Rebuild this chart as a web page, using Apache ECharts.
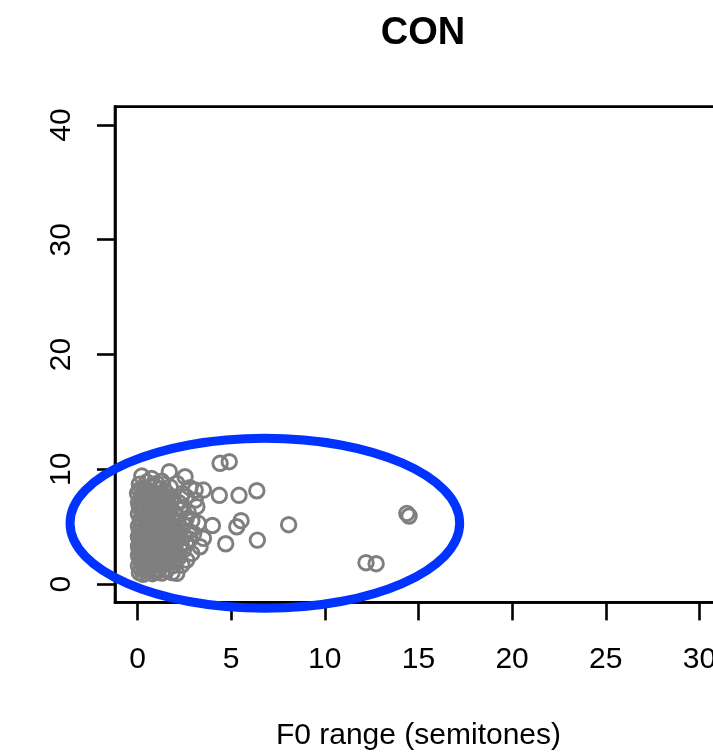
<!DOCTYPE html>
<html>
<head>
<meta charset="utf-8">
<title>CON</title>
<script src="https://cdn.jsdelivr.net/npm/echarts@6/dist/echarts.min.js"></script>
<style>
  html, body { margin: 0; padding: 0; background: #fff; }
  #chart { width: 713px; height: 753px; }
</style>
</head>
<body>
<div id="chart"></div>
<script>
// Axis ticks
var xTicks = [0, 5, 10, 15, 20, 25, 30];
var yTicks = [0, 10, 20, 30, 40];

// Observations: [F0 range (semitones), y]
var conPoints = [
  // bottom rows
  [0.1,1.0],[0.3,0.85],[0.55,1.1],[0.8,0.9],[1.0,1.05],[1.3,0.95],[1.55,1.2],[1.85,1.0],[2.1,0.93],
  [0.2,1.3],[0.65,1.35],[1.15,1.3],[0.4,1.15],[0.9,1.25],
  [0.05,1.6],[0.25,1.75],[0.45,1.55],[0.7,1.8],[0.9,1.6],[1.1,1.9],[1.35,1.7],[1.6,1.85],[1.9,1.6],[2.37,1.66],
  [0.15,2.1],[0.4,2.2],[0.6,2.0],[0.85,2.15],[1.05,2.05],[1.25,2.25],[1.5,2.1],[1.75,2.2],[2.0,2.0],[2.63,2.09],[2.2,2.3],
  [0.05,2.5],[0.3,2.6],[0.5,2.45],[0.75,2.7],[0.95,2.55],[1.2,2.8],[1.4,2.5],[1.65,2.7],[1.9,2.9],[2.15,2.6],[2.9,2.67],
  [0.1,2.95],[0.35,3.0],[0.6,2.85],[0.85,3.05],[1.1,2.95],[1.3,3.1],[1.55,3.0],[1.8,3.15],[2.45,2.95],
  [0.05,3.3],[0.25,3.45],[0.5,3.25],[0.7,3.5],[0.9,3.35],[1.15,3.6],[1.35,3.4],[1.6,3.55],[1.85,3.45],[2.1,3.7],[2.35,3.3],[3.34,3.25],
  [0.15,3.8],[0.4,3.9],[0.65,3.75],[0.9,3.85],[1.05,3.7],[1.25,3.95],[1.5,3.8],[1.75,3.9],[2.0,3.85],[2.6,3.6],[3.52,3.98],[2.8,3.9],
  // middle rows
  [0.05,4.1],[0.3,4.2],[0.55,4.05],[0.75,4.3],[1.0,4.15],[1.2,4.4],[1.45,4.2],[1.7,4.35],[1.95,4.25],[2.2,4.45],[2.5,4.2],
  [0.1,4.6],[0.35,4.7],[0.6,4.55],[0.85,4.75],[1.1,4.6],[1.3,4.85],[1.55,4.65],[1.8,4.8],[2.05,4.7],[2.3,4.9],[2.75,4.6],[3.0,4.4],
  [0.05,5.05],[0.25,5.2],[0.45,5.0],[0.7,5.25],[0.95,5.1],[1.15,5.35],[1.4,5.15],[1.65,5.3],[1.9,5.1],[2.15,5.4],[2.45,5.2],[3.25,5.29],
  [0.15,5.6],[0.4,5.7],[0.65,5.55],[0.9,5.8],[1.1,5.65],[1.35,5.85],[1.6,5.6],[1.85,5.75],[2.1,5.9],[2.6,5.7],[2.9,5.5],
  [0.05,6.1],[0.3,6.2],[0.55,6.0],[0.8,6.3],[1.0,6.15],[1.25,6.35],[1.5,6.1],[1.75,6.4],[2.0,6.2],[2.3,6.5],
  [0.1,6.7],[0.4,6.8],[0.65,6.6],[0.9,6.85],[1.15,6.7],[1.4,6.9],[1.7,6.75],[2.27,6.6],[3.17,6.74],[2.7,6.3],
  // upper rows
  [0.05,7.1],[0.3,7.25],[0.6,7.05],[0.85,7.3],[1.1,7.15],[1.35,7.4],[1.6,7.2],[1.9,7.45],[2.2,7.1],[2.6,7.6],[3.08,7.32],
  [0.0,7.9],[0.25,7.75],[0.5,7.95],[0.75,7.7],[1.0,7.85],[1.3,7.8],[1.55,7.95],[2.4,7.9],
  [0.1,8.2],[0.35,8.4],[0.6,8.15],[0.9,8.5],[1.2,8.3],[1.45,8.1],[1.75,8.45],[2.1,8.77],[3.08,8.19],[3.52,8.19],
  [0.1,8.7],[1.03,8.77],[0.5,8.9],[2.8,8.4],[2.54,9.35],[1.3,8.95],
  [0.23,9.41],[1.7,9.79],[0.75,9.2],
  // extra values in the dense core
  [0.2,1.9],[0.55,1.7],[0.8,2.4],[1.0,2.3],[1.35,2.0],[0.2,2.8],[0.45,3.1],[0.75,3.2],[1.0,3.5],[1.2,3.2],
  [0.2,3.6],[0.55,3.6],[0.8,4.0],[1.1,4.0],[1.35,3.7],[0.2,4.4],[0.45,4.4],[0.7,4.9],[1.0,4.85],[1.25,4.6],
  [0.2,5.4],[0.55,5.35],[0.8,5.5],[1.05,5.95],[1.3,5.5],[0.2,6.45],[0.45,6.4],[0.75,6.5],[1.1,6.45],[1.3,6.1],
  [0.2,7.0],[0.5,7.45],[0.75,7.15],[1.0,7.5],[1.2,7.0],[0.35,8.0],[0.8,8.05],[1.6,7.6],[1.6,2.45],[1.6,4.0],
  // scattered high-range values
  [4.41,10.52],[4.9,10.66],[4.37,7.73],[5.42,7.73],[6.37,8.13],[4.0,5.1],[4.71,3.51],
  [5.53,5.52],[5.3,4.99],[6.4,3.83],[8.07,5.17],[14.38,6.16],[14.5,5.93],[12.2,1.86],[12.74,1.77]
];

// Ellipse outline: [centre x, centre y, semi-axis x, semi-axis y]
var conEllipse = [[6.8, 5.3, 10.4, 7.4]];

var FONT = 'Liberation Sans, Arial, Helvetica, sans-serif';

var chart = echarts.init(document.getElementById('chart'), null, { renderer: 'canvas' });

chart.setOption({
  animation: false,
  backgroundColor: '#fff',
  title: {
    text: 'CON',
    left: 418,
    top: 10,
    textAlign: 'center',
    textStyle: { fontFamily: FONT, fontSize: 38, fontWeight: 'bold', color: '#000' }
  },
  grid: {
    left: 115,
    top: 106.6,
    width: 606.9,
    height: 495.8,
    outerBoundsMode: 'none',
    containLabel: false,
    show: true,
    borderColor: '#000',
    borderWidth: 2.6,
    backgroundColor: 'transparent'
  },
  xAxis: {
    type: 'value',
    min: -1.2,
    max: 31.2,
    name: 'F0 range (semitones)',
    nameLocation: 'middle',
    nameGap: 118,
    nameTextStyle: { fontFamily: FONT, fontSize: 30, color: '#000' },
    splitLine: { show: false },
    axisLine: { show: true, onZero: false, lineStyle: { color: '#000', width: 2.6 } },
    axisTick: { show: true, inside: false, length: 18, customValues: xTicks, lineStyle: { color: '#000', width: 2.6 } },
    axisLabel: { customValues: xTicks, margin: 42, fontFamily: FONT, fontSize: 30, color: '#000' }
  },
  yAxis: {
    type: 'value',
    min: -1.6,
    max: 41.6,
    splitLine: { show: false },
    axisLine: { show: true, onZero: false, lineStyle: { color: '#000', width: 2.6 } },
    axisTick: { show: true, inside: false, length: 18, customValues: yTicks, lineStyle: { color: '#000', width: 2.6 } },
    axisLabel: { customValues: yTicks, rotate: 90, margin: 38, fontFamily: FONT, fontSize: 30, color: '#000' }
  },
  series: [
    {
      type: 'scatter',
      data: conPoints,
      symbol: 'circle',
      symbolSize: 14.5,
      silent: true,
      itemStyle: { color: 'rgba(0,0,0,0)', borderColor: '#7f7f7f', borderWidth: 2.9, opacity: 1 },
      z: 3
    },
    {
      type: 'custom',
      data: conEllipse,
      clip: false,
      silent: true,
      z: 5,
      renderItem: function (params, api) {
        var c = api.coord([api.value(0), api.value(1)]);
        var s = api.size([api.value(2), api.value(3)]);
        return {
          type: 'ellipse',
          shape: { cx: c[0], cy: c[1], rx: s[0], ry: s[1] },
          style: { fill: 'none', stroke: '#0033ff', lineWidth: 9 }
        };
      }
    }
  ]
});
</script>
</body>
</html>
